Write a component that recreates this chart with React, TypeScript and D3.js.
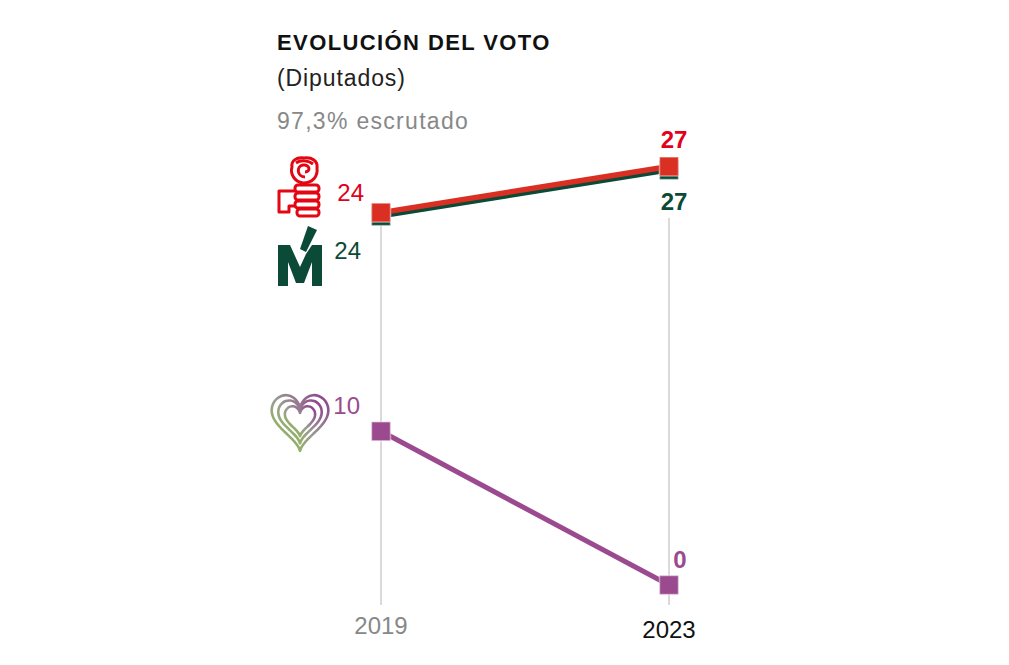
import React from "react";
import * as d3 from "d3";

const years = ["2019", "2023"];
const partyNames = ["PSOE", "Más Madrid", "Unidas Podemos"];
const psoeSeats = [24, 27];
const masMadridSeats = [24, 27];
const podemosSeats = [10, 0];
const title = "EVOLUCIÓN DEL VOTO";
const subtitle = "(Diputados)";
const scrutiny = "97,3% escrutado";

const W = 1009;
const H = 665;
const FONT = "'Liberation Sans', Arial, sans-serif";

const x = d3.scalePoint<string>().domain(years).range([381, 669]);
const y = d3.scaleLinear().domain([0, 27]).range([585, 170]);

type Series = {
  name: string;
  values: number[];
  line: string;
  label: string;
  dy: number;
  lab0: { dx: number; dy: number };
  lab1: { dx: number; dy: number };
  width: number;
};

const series: Series[] = [
  {
    name: partyNames[1],
    values: masMadridSeats,
    line: "#0b4a36",
    label: "#0b4a36",
    dy: 0,
    lab0: { dx: -20, dy: 43 },
    lab1: { dx: 5, dy: 40 },
    width: 5,
  },
  {
    name: partyNames[0],
    values: psoeSeats,
    line: "#da2f23",
    label: "#e2001a",
    dy: -3.5,
    lab0: { dx: -17, dy: -12 },
    lab1: { dx: 5, dy: -19 },
    width: 5.5,
  },
  {
    name: partyNames[2],
    values: podemosSeats,
    line: "#9b4a8f",
    label: "#9b4a8f",
    dy: 0,
    lab0: { dx: -21, dy: -17 },
    lab1: { dx: 11, dy: -17 },
    width: 5,
  },
];

// rounded parametric heart outline (logo shape, not data)
function heartPath(cx: number, cy: number, sx: number, sy: number) {
  const pts: [number, number][] = d3.range(0, 36).map((k) => {
    const t = (k / 36) * Math.PI * 2;
    const hx = 16 * Math.pow(Math.sin(t), 3);
    const hy = 13 * Math.cos(t) - 5 * Math.cos(2 * t) - 2 * Math.cos(3 * t) - Math.cos(4 * t);
    return [cx + hx * sx, cy - hy * sy];
  });
  return d3.line().curve(d3.curveBasisClosed)(pts) as string;
}

function PsoeLogo() {
  const c = "#e30613";
  return (
    <g fill="none" stroke={c} strokeWidth={3} strokeLinejoin="round">
      <path d="M 304 158 C 296 157 291 161 292 167 C 290 173 294 182 303 183 C 313 183 318 176 317 168 C 318 161 312 157 304 158 Z" />
      <path d="M 305 177 C 297 177 296 166 303 165 C 310 164 311 172 305 172" />
      <path d="M 296 163 C 300 160 308 160 313 164" />
      <rect x={295} y={185} width={24} height={7} rx={3} />
      <rect x={295} y={193} width={24} height={7} rx={3} />
      <rect x={295} y={201} width={24} height={7} rx={3} />
      <rect x={297} y={209} width={22} height={7} rx={3} />
      <path d="M 295 191 L 279 191 L 279 212 L 289 212 L 289 206 L 295 206" />
    </g>
  );
}

function MasMadridLogo() {
  const c = "#0b4a36";
  return (
    <g fill={c}>
      <polygon points="278,286 278,245 290,245 300,267 306,254 312,245 322,245 322,286 312,286 312,262 304,283 296,283 288,262 288,286" />
      <polygon points="308,226 317,230 306,252 300,249" />
    </g>
  );
}

function PodemosLogo() {
  return (
    <g fill="none" strokeWidth={2.6} stroke="url(#heartGrad)" strokeLinecap="round" strokeLinejoin="round">
      <path d={heartPath(300, 418, 1.8, 1.95)} />
      <path d={heartPath(300, 418, 1.38, 1.5)} />
      <path d={heartPath(300, 418.5, 0.96, 1.05)} />
    </g>
  );
}

export default function App() {
  const lineGen = (s: Series) =>
    d3
      .line<number>()
      .x((_, i) => x(years[i]) as number)
      .y((v) => y(v) + s.dy)(s.values) as string;

  const msize = 19;

  return (
    <svg
      width={W}
      height={H}
      style={{ position: "absolute", left: 0, top: 0, background: "#fff" }}
      fontFamily={FONT}
    >
      <defs>
        <linearGradient id="heartGrad" x1="0" y1="1" x2="1" y2="0">
          <stop offset="0%" stopColor="#8cc63f" />
          <stop offset="50%" stopColor="#9a9a92" />
          <stop offset="100%" stopColor="#8e3c8c" />
        </linearGradient>
      </defs>

      <text x={277} y={50} fontSize={22} fontWeight={700} fill="#111" letterSpacing={1.4}>
        {title}
      </text>
      <text x={277} y={86} fontSize={23} fill="#222" letterSpacing={0.9}>
        {subtitle}
      </text>
      <text x={277} y={129} fontSize={23} fill="#888" letterSpacing={1.3}>
        {scrutiny}
      </text>

      <line x1={x(years[0])} x2={x(years[0])} y1={y(24) + 6} y2={605} stroke="#b5b5b5" strokeWidth={1} />
      <line x1={x(years[1])} x2={x(years[1])} y1={218} y2={605} stroke="#b5b5b5" strokeWidth={1} />

      <text x={x(years[0])} y={634} textAnchor="middle" fontSize={24} fill="#888">
        {years[0]}
      </text>
      <text x={x(years[1])} y={638} textAnchor="middle" fontSize={24} fill="#111">
        {years[1]}
      </text>

      {series.map((s) => (
        <g key={s.name}>
          <path d={lineGen(s)} fill="none" stroke={s.line} strokeWidth={s.width} />
          {s.values.map((v, i) => (
            <rect
              key={i}
              x={(x(years[i]) as number) - msize / 2}
              y={y(v) + s.dy - msize / 2}
              width={msize}
              height={msize}
              fill={s.line}
              stroke="rgba(255,255,255,0.45)"
              strokeWidth={1.5}
            />
          ))}
        </g>
      ))}

      {series.map((s) => (
        <g key={s.name + "-lab"}>
          <text
            x={(x(years[0]) as number) + s.lab0.dx}
            y={y(s.values[0]) + s.dy + s.lab0.dy}
            textAnchor="end"
            fontSize={24}
            fill={s.label}
          >
            {s.values[0]}
          </text>
          <text
            x={(x(years[1]) as number) + s.lab1.dx}
            y={y(s.values[1]) + s.dy + s.lab1.dy}
            textAnchor="middle"
            fontSize={24}
            fontWeight={700}
            fill={s.label}
          >
            {s.values[1]}
          </text>
        </g>
      ))}

      <PsoeLogo />
      <MasMadridLogo />
      <PodemosLogo />
    </svg>
  );
}
